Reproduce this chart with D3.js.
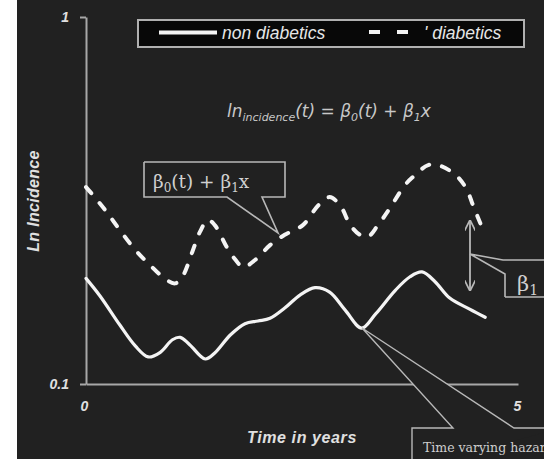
<!DOCTYPE html>
<html>
<head>
<meta charset="utf-8">
<script src="https://cdn.jsdelivr.net/npm/d3@7"></script>
<style>
  html, body { margin: 0; padding: 0; background: #ffffff; }
  svg { display: block; }
</style>
</head>
<body>
<svg id="chart" width="544" height="459"></svg>
<script>
// Time in years for the non-diabetic curve and its incidence values
const timeNonDiab = [0, 0.16, 0.39, 0.57, 0.72, 0.86, 1.0, 1.09, 1.2, 1.38, 1.49, 1.67, 1.84, 1.99, 2.13, 2.3, 2.48, 2.65, 2.82, 3.0, 3.19, 3.35, 3.58, 3.75, 3.89, 4.04, 4.21, 4.44, 4.62];
const incNonDiab = [0.194, 0.174, 0.145, 0.127, 0.1185, 0.122, 0.132, 0.134, 0.128, 0.117, 0.1215, 0.136, 0.146, 0.1485, 0.151, 0.161, 0.175, 0.183, 0.178, 0.159, 0.142, 0.155, 0.180, 0.196, 0.202, 0.190, 0.1715, 0.160, 0.152];

// Time in years for the diabetic curve and its incidence values
const timeDiab = [0, 0.1, 0.24, 0.39, 0.57, 0.74, 0.91, 1.03, 1.12, 1.23, 1.32, 1.41, 1.49, 1.63, 1.73, 1.82, 1.96, 2.13, 2.3, 2.51, 2.69, 2.82, 2.94, 3.06, 3.17, 3.26, 3.38, 3.52, 3.69, 3.81, 3.96, 4.1, 4.29, 4.41, 4.47, 4.54, 4.61];
const incDiab = [0.344, 0.323, 0.294, 0.263, 0.232, 0.211, 0.194, 0.188, 0.197, 0.229, 0.260, 0.280, 0.271, 0.236, 0.218, 0.208, 0.218, 0.239, 0.255, 0.271, 0.307, 0.323, 0.307, 0.271, 0.255, 0.2515, 0.271, 0.302, 0.348, 0.371, 0.395, 0.393, 0.369, 0.338, 0.311, 0.283, 0.258];

const xTicks = [0, 5];
const yTicks = [0.1, 1];
const seriesNames = ["non diabetics", "diabetics"];

const svg = d3.select("#chart");
const W = 544, H = 459;

// dark panel with a white strip on its left
svg.append("rect").attr("x", 0).attr("y", 0).attr("width", W).attr("height", H).attr("fill", "#ffffff");
svg.append("rect").attr("x", 17).attr("y", 0).attr("width", W - 17).attr("height", H).attr("fill", "#212121");

const x = d3.scaleLinear().domain([0, 5]).range([86, 518]);
const y = d3.scaleLog().domain([0.1, 1]).range([384, 17]);

const axisColor = "#a8a8a8";
const labelFont = "'Liberation Sans', Arial, sans-serif";

// y axis
const yAxis = svg.append("g").attr("transform", "translate(86,0)")
  .call(d3.axisLeft(y).tickValues(yTicks).tickSize(6).tickSizeOuter(0).tickPadding(11)
    .tickFormat(d => d === 1 ? "1" : "0.1"));
yAxis.select(".domain").attr("stroke", axisColor).attr("stroke-width", 2);
yAxis.selectAll(".tick line").attr("stroke", axisColor).attr("stroke-width", 2);
yAxis.selectAll(".tick text").attr("fill", "#e0e0e0").attr("font-family", labelFont)
  .attr("font-size", 14).attr("font-weight", "bold").attr("font-style", "italic");

// x axis
const xAxis = svg.append("g").attr("transform", "translate(0,384)")
  .call(d3.axisBottom(x).tickValues(xTicks).tickSize(0).tickSizeOuter(0).tickPadding(17).tickFormat(d3.format("d")));
xAxis.select(".domain").attr("stroke", axisColor).attr("stroke-width", 2);
xAxis.selectAll(".tick text").attr("fill", "#e0e0e0").attr("font-family", labelFont)
  .attr("font-size", 14).attr("font-weight", "bold").attr("font-style", "italic")
  .attr("dx", (d, i) => i === 0 ? -2 : -1);

// axis titles
svg.append("text").attr("x", 302).attr("y", 443).attr("text-anchor", "middle")
  .attr("fill", "#e0e0e0").attr("font-family", labelFont).attr("font-size", 16)
  .attr("letter-spacing", 0.6)
  .attr("font-weight", "bold").attr("font-style", "italic").text("Time in years");
svg.append("text").attr("transform", "translate(39,201) rotate(-90)").attr("text-anchor", "middle")
  .attr("fill", "#e0e0e0").attr("font-family", labelFont).attr("font-size", 16)
  .attr("letter-spacing", 0.3)
  .attr("font-weight", "bold").attr("font-style", "italic").text("Ln Incidence");

// curves
const line = d3.line().x(d => x(d[0])).y(d => y(d[1])).curve(d3.curveCatmullRom.alpha(0.5));
const nonDiab = timeNonDiab.map((t, i) => [t, incNonDiab[i]]);
const diab = timeDiab.map((t, i) => [t, incDiab[i]]);

svg.append("path").datum(nonDiab).attr("d", line).attr("fill", "none")
  .attr("stroke", "#f4f4f4").attr("stroke-width", 3.2).attr("stroke-linecap", "round").attr("stroke-linejoin", "round");
svg.append("path").datum(diab).attr("d", line).attr("fill", "none")
  .attr("stroke", "#f4f4f4").attr("stroke-width", 4).attr("stroke-dasharray", "8,13")
  .attr("stroke-linecap", "round");

// legend
const lg = svg.append("g");
lg.append("rect").attr("x", 138).attr("y", 20).attr("width", 386).attr("height", 27)
  .attr("fill", "#080808").attr("stroke", "#b0b0b0").attr("stroke-width", 2);
lg.append("line").attr("x1", 159).attr("x2", 217).attr("y1", 32.5).attr("y2", 32.5)
  .attr("stroke", "#f4f4f4").attr("stroke-width", 4);
lg.append("text").attr("x", 222).attr("y", 38.5).attr("fill", "#e6e6e6").attr("font-family", labelFont)
  .attr("font-size", 17.5).attr("font-style", "italic").text(seriesNames[0]);
lg.append("line").attr("x1", 369).attr("x2", 409).attr("y1", 32).attr("y2", 32)
  .attr("stroke", "#f4f4f4").attr("stroke-width", 4).attr("stroke-dasharray", "11,17");
lg.append("text").attr("x", 424).attr("y", 38.5).attr("fill", "#e6e6e6").attr("font-family", labelFont)
  .attr("font-size", 17.5).attr("font-style", "italic").text("' " + seriesNames[1]);

// model formula
const f = svg.append("text").attr("x", 227).attr("y", 117).attr("fill", "#c8c8c8")
  .attr("font-family", "'DejaVu Sans', sans-serif").attr("font-size", 17).attr("font-style", "italic");
f.append("tspan").text("ln");
f.append("tspan").attr("font-size", 11).attr("dy", 4).text("incidence");
f.append("tspan").attr("dy", -4).text("(t) = β");
f.append("tspan").attr("font-size", 11).attr("dy", 4).text("0");
f.append("tspan").attr("dy", -4).text("(t) + β");
f.append("tspan").attr("font-size", 11).attr("dy", 4).text("1");
f.append("tspan").attr("dy", -4).text("x");

// callouts
const calloutStroke = "#b8b8b8";
const serif = "'DejaVu Serif', 'Liberation Serif', serif";

// β0(t) + β1x callout, pointing at the diabetic curve
svg.append("path")
  .attr("d", d3.line()([[144, 162], [285, 162], [285, 197], [262, 197], [278, 233], [227, 197], [144, 197], [144, 162]]))
  .attr("fill", "#212121").attr("stroke", calloutStroke).attr("stroke-width", 1.6);
const c1 = svg.append("text").attr("x", 153).attr("y", 188).attr("fill", "#d0d0d0")
  .attr("font-family", serif).attr("font-size", 18.5);
c1.append("tspan").text("β");
c1.append("tspan").attr("font-size", 12).attr("dy", 4).text("0");
c1.append("tspan").attr("dy", -4).text("(t) + β");
c1.append("tspan").attr("font-size", 12).attr("dy", 4).text("1");
c1.append("tspan").attr("dy", -4).text("x");

// double arrow marking the gap between the curves
const defs = svg.append("defs");
defs.append("marker").attr("id", "ah").attr("viewBox", "0 0 10 10").attr("refX", 9).attr("refY", 5)
  .attr("markerWidth", 6).attr("markerHeight", 6).attr("orient", "auto-start-reverse")
  .append("path").attr("d", "M0,0 L10,5 L0,10").attr("fill", "none").attr("stroke", calloutStroke).attr("stroke-width", 1.6);
svg.append("line").attr("x1", 470).attr("x2", 470).attr("y1", 221).attr("y2", 290)
  .attr("stroke", calloutStroke).attr("stroke-width", 1.8)
  .attr("marker-start", "url(#ah)").attr("marker-end", "url(#ah)");

// β1 callout
svg.append("path")
  .attr("d", d3.line()([[505, 297], [505, 274], [470, 254], [503, 260], [560, 260], [560, 297], [505, 297]]))
  .attr("fill", "#212121").attr("stroke", calloutStroke).attr("stroke-width", 1.6);
const c2 = svg.append("text").attr("x", 517).attr("y", 291).attr("fill", "#d0d0d0")
  .attr("font-family", serif).attr("font-size", 21);
c2.append("tspan").text("β");
c2.append("tspan").attr("font-size", 14).attr("dy", 4).text("1");

// time-varying hazard callout
svg.append("path")
  .attr("d", d3.line()([[412, 470], [412, 428], [453, 428], [362, 328], [514, 428], [560, 428]]))
  .attr("fill", "#212121").attr("stroke", calloutStroke).attr("stroke-width", 1.4);
svg.append("text").attr("x", 423).attr("y", 452).attr("fill", "#cfcfcf")
  .attr("font-family", serif).attr("font-size", 12.5).text("Time varying hazard");
</script>
</body>
</html>
